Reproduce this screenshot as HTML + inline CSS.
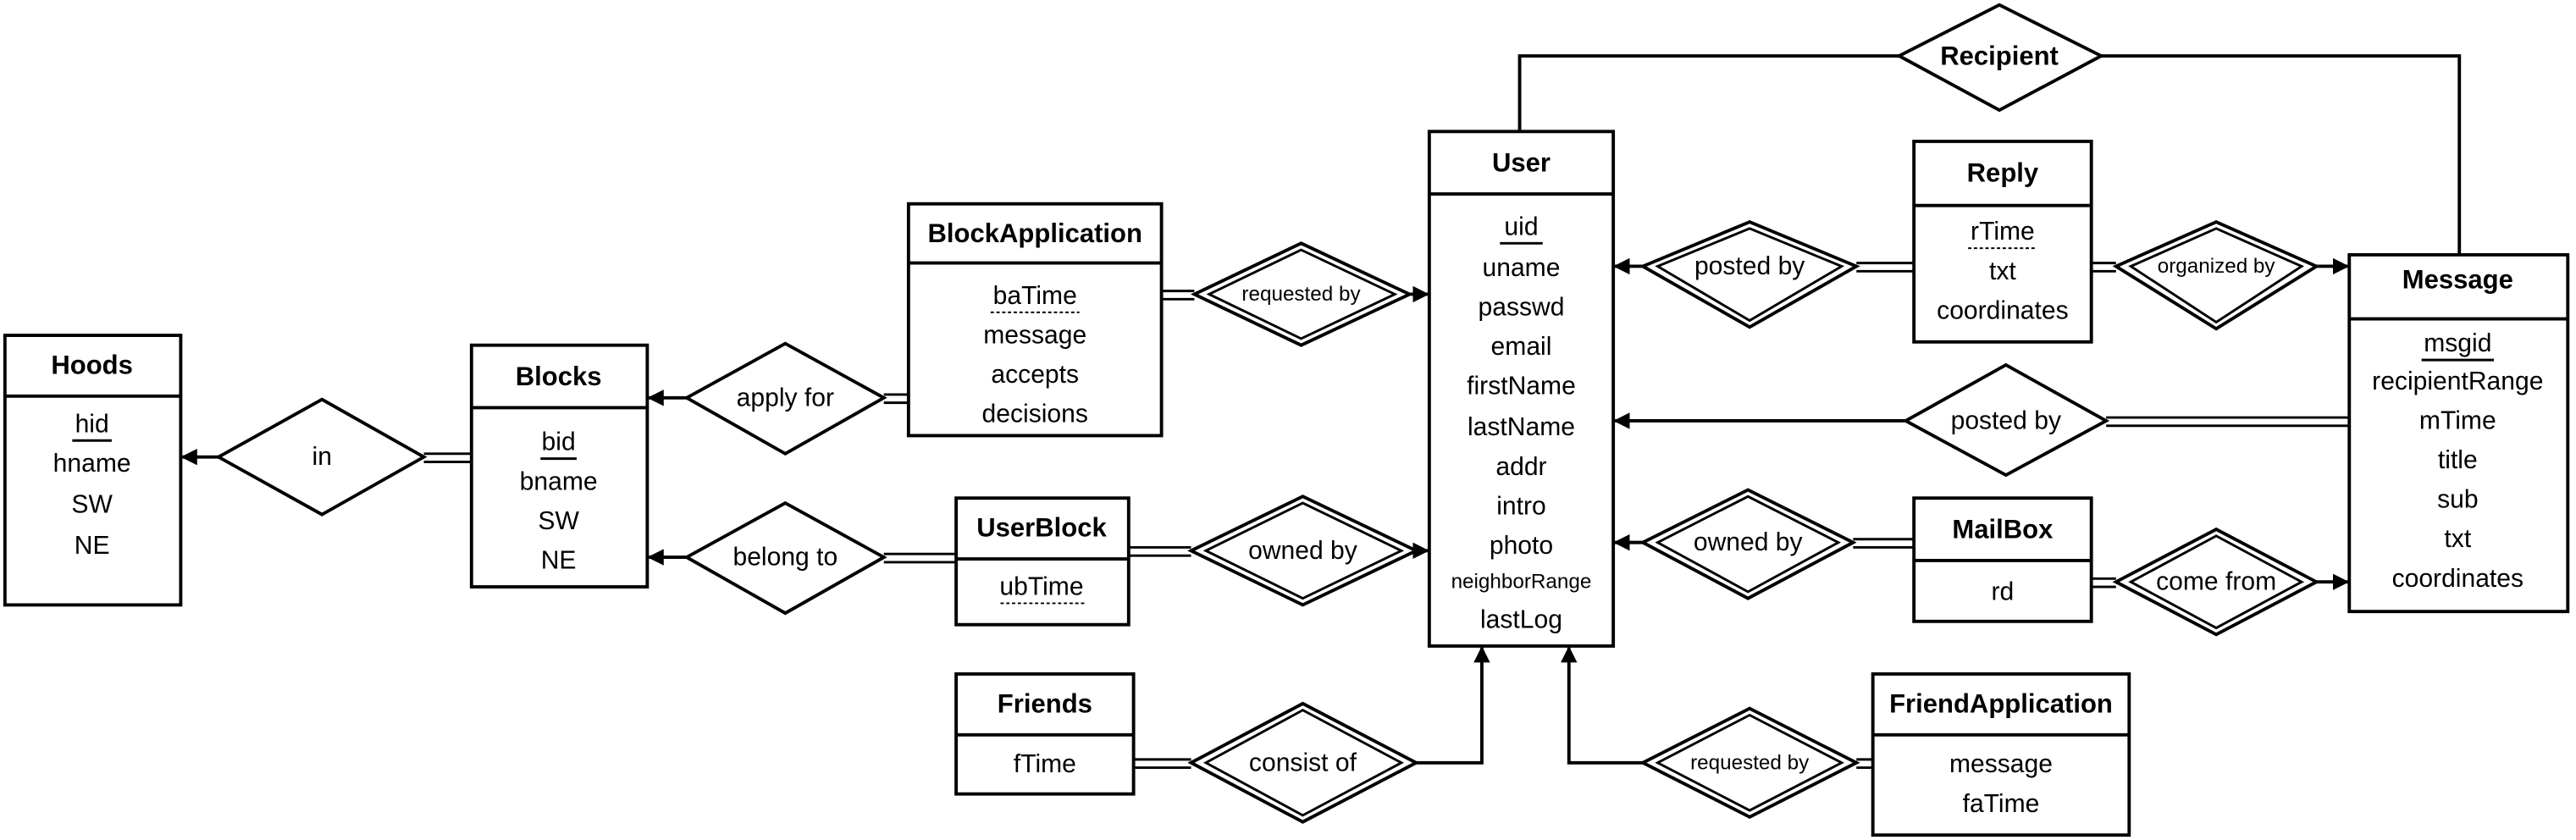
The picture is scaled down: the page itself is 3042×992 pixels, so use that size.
<!DOCTYPE html>
<html><head><meta charset="utf-8"><style>
html,body{margin:0;padding:0;background:#fff;}
svg{display:block;}
text{font-family:"Liberation Sans",sans-serif;fill:#000;text-anchor:middle;dominant-baseline:central;}
.t{font-weight:bold;font-size:16px;}
.a{font-size:15.5px;}
.s{font-size:12.5px;}
</style></head><body>
<svg width="3042" height="992" viewBox="0 0 1568 511" preserveAspectRatio="none" xmlns="http://www.w3.org/2000/svg">
<defs>
<marker id="ar" markerWidth="10" markerHeight="10" refX="9" refY="5" orient="auto" markerUnits="userSpaceOnUse">
<path d="M0,0 L10,5 L0,10 z" fill="#000"/></marker>
</defs>
<g fill="none" stroke="#000" stroke-width="2">
<rect x="3" y="204" width="107" height="164" fill="#fff"/><line x1="3" y1="241" x2="110" y2="241"/>
<rect x="287" y="210" width="107" height="147" fill="#fff"/><line x1="287" y1="248" x2="394" y2="248"/>
<rect x="553" y="124" width="154" height="141" fill="#fff"/><line x1="553" y1="160" x2="707" y2="160"/>
<rect x="582" y="303" width="105" height="77" fill="#fff"/><line x1="582" y1="340" x2="687" y2="340"/>
<rect x="582" y="410" width="108" height="73" fill="#fff"/><line x1="582" y1="447" x2="690" y2="447"/>
<rect x="870" y="80" width="112" height="313" fill="#fff"/><line x1="870" y1="118" x2="982" y2="118"/>
<rect x="1165" y="86" width="108" height="122" fill="#fff"/><line x1="1165" y1="125" x2="1273" y2="125"/>
<rect x="1430" y="155" width="133" height="217" fill="#fff"/><line x1="1430" y1="194" x2="1563" y2="194"/>
<rect x="1165" y="303" width="108" height="75" fill="#fff"/><line x1="1165" y1="341" x2="1273" y2="341"/>
<rect x="1140" y="410" width="156" height="98" fill="#fff"/><line x1="1140" y1="447" x2="1296" y2="447"/>

<line x1="133" y1="278" x2="111" y2="278" marker-end="url(#ar)"/>
<line x1="418" y1="242" x2="395" y2="242" marker-end="url(#ar)"/>
<line x1="418" y1="339" x2="395" y2="339" marker-end="url(#ar)"/>
<line x1="858" y1="179" x2="869" y2="179" marker-end="url(#ar)"/>
<line x1="862" y1="335" x2="869" y2="335" marker-end="url(#ar)"/>
<polyline points="862,464 902,464 902,394" marker-end="url(#ar)"/>
<polyline points="1000,464 955,464 955,394" marker-end="url(#ar)"/>
<line x1="1000" y1="162" x2="983" y2="162" marker-end="url(#ar)"/>
<line x1="1160" y1="256" x2="983" y2="256" marker-end="url(#ar)"/>
<line x1="1000" y1="330" x2="983" y2="330" marker-end="url(#ar)"/>
<line x1="1410" y1="162" x2="1429" y2="162" marker-end="url(#ar)"/>
<line x1="1410" y1="354" x2="1429" y2="354" marker-end="url(#ar)"/>
<polyline points="925,80 925,34 1156,34"/>
<polyline points="1279,34 1497,34 1497,155"/>
</g>
<g stroke="#000" stroke-width="1.5" fill="none">
<path d="M258,276H287M258,281H287"/>
<path d="M538,240H553M538,245H553"/>
<path d="M538,337H582M538,342H582"/>
<path d="M707,177H727M707,182H727"/>
<path d="M687,333H725M687,338H725"/>
<path d="M690,462H725M690,467H725"/>
<path d="M1130,160H1165M1130,165H1165"/>
<path d="M1273,160H1288M1273,165H1288"/>
<path d="M1282,254H1430M1282,259H1430"/>
<path d="M1128,328H1165M1128,333H1165"/>
<path d="M1273,352H1288M1273,357H1288"/>
<path d="M1130,462H1140M1130,467H1140"/>
</g>
<g fill="#fff" stroke="#000" stroke-width="2">
<polygon points="133,278 196,243 258,278 196,313"/>
<polygon points="418,242 478,209 538,242 478,276"/>
<polygon points="418,339 478,306 538,339 478,373"/>
<polygon points="1156,34 1217,3 1279,34 1217,67"/>
<polygon points="1160,256 1221,222 1282,256 1221,289"/>
<polygon points="727,179 792,148 858,179 792,210"/>
<polygon points="725,335 793,302 862,335 793,368"/>
<polygon points="725,464 793,428 862,464 793,500"/>
<polygon points="1000,162 1065,135 1130,162 1065,199"/>
<polygon points="1288,162 1349,135 1410,162 1349,200"/>
<polygon points="1000,330 1064,298 1128,330 1064,364"/>
<polygon points="1288,354 1349,322 1410,354 1349,386"/>
<polygon points="1000,464 1065,431 1130,464 1065,497"/>
</g>
<g fill="none" stroke="#000" stroke-width="1.5">
<polygon points="736,179 792,152 849,179 792,206"/>
<polygon points="734,335 793,306 853,335 793,364"/>
<polygon points="734,464 793,432 853,464 793,496"/>
<polygon points="1009,162 1065,139 1121,162 1065,195"/>
<polygon points="1297,162 1349,139 1401,162 1349,196"/>
<polygon points="1009,330 1064,302 1119,330 1064,360"/>
<polygon points="1297,354 1349,326 1401,354 1349,382"/>
<polygon points="1009,464 1065,435 1121,464 1065,493"/>
</g>
<text class="t" x="56" y="222">Hoods</text>
<text class="a" x="56" y="258">hid</text><line x1="44" y1="268" x2="68" y2="268" stroke="#000" stroke-width="1.5"/>
<text class="a" x="56" y="282">hname</text><text class="a" x="56" y="307">SW</text><text class="a" x="56" y="332">NE</text>
<text class="a" x="196" y="278">in</text>
<text class="t" x="340" y="229">Blocks</text>
<text class="a" x="340" y="269">bid</text><line x1="329" y1="279" x2="351" y2="279" stroke="#000" stroke-width="1.5"/>
<text class="a" x="340" y="293">bname</text><text class="a" x="340" y="317">SW</text><text class="a" x="340" y="341">NE</text>
<text class="a" x="478" y="242">apply for</text>
<text class="a" x="478" y="339">belong to</text>
<text class="t" x="630" y="142">BlockApplication</text>
<text class="a" x="630" y="180">baTime</text><line x1="603" y1="190" x2="657" y2="190" stroke="#000" stroke-width="1" stroke-dasharray="2,1.5"/>
<text class="a" x="630" y="204">message</text><text class="a" x="630" y="228">accepts</text><text class="a" x="630" y="252">decisions</text>
<text class="s" x="792" y="179">requested by</text>
<text class="t" x="634" y="321">UserBlock</text>
<text class="a" x="634" y="357">ubTime</text><line x1="609" y1="367" x2="660" y2="367" stroke="#000" stroke-width="1" stroke-dasharray="2,1.5"/>
<text class="a" x="793" y="335">owned by</text>
<text class="t" x="636" y="428">Friends</text>
<text class="a" x="636" y="465">fTime</text>
<text class="a" x="793" y="464">consist of</text>
<text class="t" x="926" y="99">User</text>
<text class="a" x="926" y="138">uid</text><line x1="913" y1="148" x2="939" y2="148" stroke="#000" stroke-width="1.5"/>
<text class="a" x="926" y="163">uname</text><text class="a" x="926" y="187">passwd</text><text class="a" x="926" y="211">email</text>
<text class="a" x="926" y="235">firstName</text><text class="a" x="926" y="260">lastName</text><text class="a" x="926" y="284">addr</text>
<text class="a" x="926" y="308">intro</text><text class="a" x="926" y="332">photo</text>
<text class="s" x="926" y="354">neighborRange</text><text class="a" x="926" y="377">lastLog</text>
<text class="t" x="1217" y="34">Recipient</text>
<text class="a" x="1065" y="162">posted by</text>
<text class="t" x="1219" y="105">Reply</text>
<text class="a" x="1219" y="141">rTime</text><line x1="1198" y1="151" x2="1240" y2="151" stroke="#000" stroke-width="1" stroke-dasharray="2,1.5"/>
<text class="a" x="1219" y="165">txt</text><text class="a" x="1219" y="189">coordinates</text>
<text class="s" x="1349" y="162">organized by</text>
<text class="t" x="1496" y="170">Message</text>
<text class="a" x="1496" y="209">msgid</text><line x1="1474" y1="219" x2="1518" y2="219" stroke="#000" stroke-width="1.5"/>
<text class="a" x="1496" y="232">recipientRange</text><text class="a" x="1496" y="256">mTime</text>
<text class="a" x="1496" y="280">title</text><text class="a" x="1496" y="304">sub</text>
<text class="a" x="1496" y="328">txt</text><text class="a" x="1496" y="352">coordinates</text>
<text class="a" x="1221" y="256">posted by</text>
<text class="a" x="1064" y="330">owned by</text>
<text class="t" x="1219" y="322">MailBox</text>
<text class="a" x="1219" y="360">rd</text>
<text class="a" x="1349" y="354">come from</text>
<text class="s" x="1065" y="464">requested by</text>
<text class="t" x="1218" y="428">FriendApplication</text>
<text class="a" x="1218" y="465">message</text><text class="a" x="1218" y="489">faTime</text>
</svg>
</body></html>
